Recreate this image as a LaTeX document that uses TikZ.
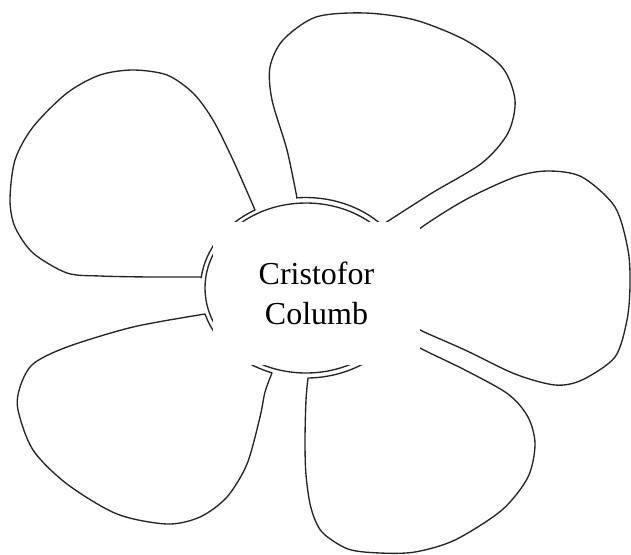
\documentclass[tikz,border=0pt]{standalone}
\usepackage{fontspec}
\setmainfont{Liberation Serif}
\usepackage{tikz}
\usetikzlibrary{calc}

\tikzset{
    petal/.style={draw=black!85, line width=1.35pt, fill=white, line join=round},
    heart/.style={fill=white, inner sep=0pt, minimum width=207pt, minimum height=143pt,
        align=center, font=\fontsize{32}{40}\selectfont}
}

\begin{document}
\begin{tikzpicture}[x=1pt, y=-1pt]
    \useasboundingbox (0,0) rectangle (631,554);
    \coordinate (O) at (306,288);
    % inner ring of the flower
    \draw[petal] (O) ellipse[x radius=101, y radius=85];
    % petals, each closed along the outer ring
    \draw[petal] plot[smooth] coordinates {(201,277) (150,277) (100,276) (67,273) (33,253) (15,227) (10,200) (15,160) (33,127) (67,93) (100,75) (133,70) (167,75) (193,93) (213,120) (233,160) (255,210)}
        arc[start angle=241, end angle=187, x radius=106, y radius=90] -- cycle;
    \draw[petal] plot[smooth] coordinates {(297,198) (287,150) (272,100) (270,67) (283,40) (316,17) (365,13) (415,20) (465,40) (502,67) (515,100) (508,133) (482,163) (432,193) (382,225)}
        arc[start angle=316, end angle=265, x radius=106, y radius=90] -- cycle;
    \draw[petal] plot[smooth] coordinates {(402,250) (418,230) (465,200) (515,177) (548,171) (582,177) (615,207) (628,250) (630,285) (627,320) (615,357) (582,380) (555,385) (515,374) (465,350) (418,329) (406,319)}
        arc[start angle=20, end angle=-25, x radius=106, y radius=90] -- cycle;
    \draw[petal] plot[smooth] coordinates {(398,333) (418,347) (465,370) (508,394) (528,417) (535,444) (528,477) (502,510) (455,540) (415,552) (380,553) (348,549) (322,532) (311,508) (306,475) (305,440) (306,400) (308,378)}
        arc[start angle=89, end angle=30, x radius=106, y radius=90] -- cycle;
    \draw[petal] plot[smooth] coordinates {(272,373) (265,392) (260,417) (247,464) (227,497) (200,517) (167,524) (117,514) (67,484) (33,450) (18,410) (20,387) (33,364) (67,347) (133,327) (205,314)}
        arc[start angle=163, end angle=109, x radius=106, y radius=90] -- cycle;
    \node[heart] (name) at (316.5,293.5) {Cristofor\\Columb};
\end{tikzpicture}
\end{document}
